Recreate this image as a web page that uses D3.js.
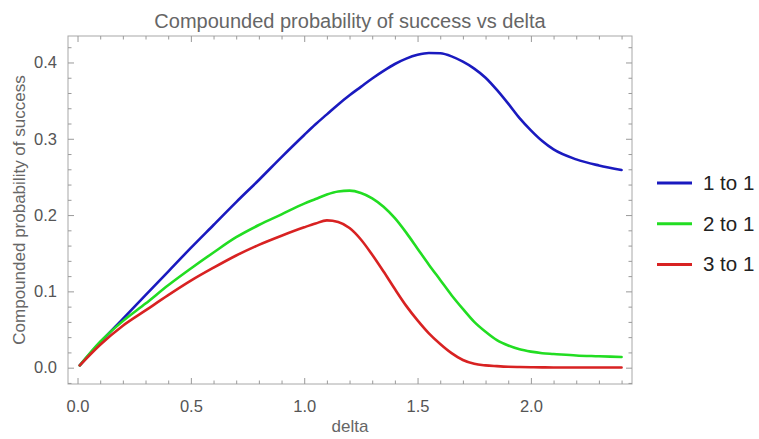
<!DOCTYPE html>
<html>
<head>
<meta charset="utf-8">
<script src="https://cdn.jsdelivr.net/npm/d3@7"></script>
<style>
  body { margin: 0; background: #fff; }
  svg { font-family: "Liberation Sans", Arial, sans-serif; }
</style>
</head>
<body>
<script>
var W = 759, H = 439;

// series
var deltas = [0.01, 0.1, 0.2, 0.3, 0.4, 0.5, 0.6, 0.7, 0.8, 0.9, 1.0,
  1.05, 1.1, 1.15, 1.2, 1.25, 1.3, 1.35, 1.4, 1.45, 1.5,
  1.55, 1.6, 1.65, 1.7, 1.75, 1.8, 1.85, 1.9, 1.95, 2.0,
  2.05, 2.1, 2.2, 2.3, 2.4];
var oneToOne = [0.003, 0.033, 0.064, 0.095, 0.126, 0.157, 0.187, 0.217, 0.246, 0.276, 0.305,
  0.319, 0.332, 0.345, 0.357, 0.368, 0.379, 0.389, 0.398, 0.405, 0.410,
  0.4125, 0.412, 0.408, 0.401, 0.392, 0.380, 0.364, 0.346, 0.327, 0.311,
  0.297, 0.286, 0.273, 0.265, 0.259];
var twoToOne = [0.003, 0.034, 0.061, 0.084, 0.108, 0.130, 0.151, 0.171, 0.187, 0.201, 0.215,
  0.221, 0.227, 0.231, 0.232, 0.229, 0.222, 0.211, 0.196, 0.177, 0.156,
  0.135, 0.115, 0.095, 0.077, 0.060, 0.047, 0.036, 0.029, 0.024, 0.021,
  0.019, 0.018, 0.016, 0.015, 0.014];
var threeToOne = [0.003, 0.030, 0.055, 0.075, 0.095, 0.114, 0.131, 0.147, 0.161, 0.173, 0.184,
  0.189, 0.193, 0.191, 0.183, 0.168, 0.148, 0.126, 0.103, 0.081, 0.062,
  0.045, 0.031, 0.019, 0.010, 0.005, 0.003, 0.002, 0.0012, 0.0008, 0.0005,
  0.0004, 0.0003, 0.0002, 0.0002, 0.0002];

var seriesNames = ["1 to 1", "2 to 1", "3 to 1"];
var seriesColors = ["#1a1abf", "#22dd22", "#d82222"];
var allSeries = [oneToOne, twoToOne, threeToOne];

var xMajor = [0, 0.5, 1.0, 1.5, 2.0];
var xMinor = [0.1, 0.2, 0.3, 0.4, 0.6, 0.7, 0.8, 0.9, 1.1, 1.2, 1.3, 1.4, 1.6, 1.7, 1.8, 1.9, 2.1, 2.2, 2.3, 2.4];
var yMajor = [0, 0.1, 0.2, 0.3, 0.4];
var yMinor = [-0.02, 0.02, 0.04, 0.06, 0.08, 0.12, 0.14, 0.16, 0.18, 0.22, 0.24, 0.26, 0.28, 0.32, 0.34, 0.36, 0.38, 0.42];

// plot frame (px)
var fLeft = 68, fRight = 632, fTop = 36, fBottom = 384;

var svg = d3.select("body").append("svg").attr("width", W).attr("height", H);

var x = d3.scaleLinear().domain([-0.042, 2.446]).range([fLeft, fRight]);
var y = d3.scaleLinear().domain([-0.0214, 0.4347]).range([fBottom, fTop]);

// frame
svg.append("rect")
  .attr("x", fLeft).attr("y", fTop)
  .attr("width", fRight - fLeft).attr("height", fBottom - fTop)
  .attr("fill", "none").attr("stroke", "#a8a8a8").attr("stroke-width", 1);

function styleAxis(g){
  g.select(".domain").remove();
  g.selectAll(".tick line").attr("stroke", "#9a9a9a");
  g.selectAll(".tick text").attr("fill", "#555").style("font-size", "16.5px")
    .style("font-family", "Liberation Sans, Arial, sans-serif");
}

var fmt = d3.format(".1f");

// bottom
svg.append("g").attr("transform", "translate(0," + fBottom + ")")
  .call(d3.axisBottom(x).tickValues(xMajor).tickSizeInner(-6).tickSizeOuter(0).tickPadding(16).tickFormat(fmt))
  .call(styleAxis);
svg.append("g").attr("transform", "translate(0," + fBottom + ")")
  .call(d3.axisBottom(x).tickValues(xMinor).tickSizeInner(-3.5).tickSizeOuter(0).tickFormat(""))
  .call(styleAxis);
// top
svg.append("g").attr("transform", "translate(0," + fTop + ")")
  .call(d3.axisTop(x).tickValues(xMajor).tickSizeInner(-6).tickSizeOuter(0).tickFormat(""))
  .call(styleAxis);
svg.append("g").attr("transform", "translate(0," + fTop + ")")
  .call(d3.axisTop(x).tickValues(xMinor).tickSizeInner(-3.5).tickSizeOuter(0).tickFormat(""))
  .call(styleAxis);
// left
svg.append("g").attr("transform", "translate(" + fLeft + ",0)")
  .call(d3.axisLeft(y).tickValues(yMajor).tickSizeInner(-6).tickSizeOuter(0).tickPadding(11).tickFormat(fmt))
  .call(styleAxis);
svg.append("g").attr("transform", "translate(" + fLeft + ",0)")
  .call(d3.axisLeft(y).tickValues(yMinor).tickSizeInner(-3.5).tickSizeOuter(0).tickFormat(""))
  .call(styleAxis);
// right
svg.append("g").attr("transform", "translate(" + fRight + ",0)")
  .call(d3.axisRight(y).tickValues(yMajor).tickSizeInner(-6).tickSizeOuter(0).tickFormat(""))
  .call(styleAxis);
svg.append("g").attr("transform", "translate(" + fRight + ",0)")
  .call(d3.axisRight(y).tickValues(yMinor).tickSizeInner(-3.5).tickSizeOuter(0).tickFormat(""))
  .call(styleAxis);

// curves
var line = d3.line()
  .x(function(d){ return x(d[0]); })
  .y(function(d){ return y(d[1]); })
  .curve(d3.curveMonotoneX);

for(var s = 0; s < allSeries.length; s++){
  var pts = deltas.map(function(d, i){ return [d, allSeries[s][i]]; });
  svg.append("path")
    .datum(pts)
    .attr("d", line)
    .attr("fill", "none")
    .attr("stroke", seriesColors[s])
    .attr("stroke-width", 2.6)
    .attr("stroke-linejoin", "round")
    .attr("stroke-linecap", "round");
}

// title and axis labels
svg.append("text").text("Compounded probability of success vs delta")
  .attr("x", (fLeft + fRight) / 2).attr("y", 28)
  .attr("text-anchor", "middle").attr("fill", "#666").style("font-size", "20px");

svg.append("text").text("delta")
  .attr("x", (fLeft + fRight) / 2).attr("y", 432)
  .attr("text-anchor", "middle").attr("fill", "#666").style("font-size", "17px");

svg.append("text").text("Compounded probability of success")
  .attr("transform", "translate(25," + 210 + ") rotate(-90)")
  .attr("text-anchor", "middle").attr("fill", "#666").style("font-size", "17px");

// legend
var legend = svg.append("g");
for(var k = 0; k < seriesNames.length; k++){
  var ly = 183 + k * 40.7;
  legend.append("line")
    .attr("x1", 657).attr("x2", 692).attr("y1", ly).attr("y2", ly)
    .attr("stroke", seriesColors[k]).attr("stroke-width", 3);
  legend.append("text").text(seriesNames[k])
    .attr("x", 703).attr("y", ly + 7)
    .attr("fill", "#222").style("font-size", "20.5px");
}
</script>
</body>
</html>
